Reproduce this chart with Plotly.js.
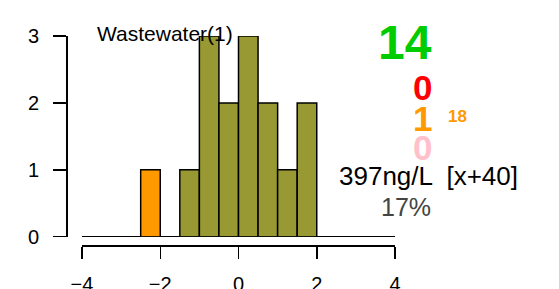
<!DOCTYPE html>
<html><head><meta charset="utf-8">
<script src="https://cdn.plot.ly/plotly-3.0.1.min.js"></script>
<style>html,body{margin:0;padding:0;background:#fff}#c{width:559px;height:289px}</style>
</head><body><div id="c"></div>
<script>
// Histogram bins (width 0.5) and counts
const binCenters = [-2.25, -1.25, -0.75, -0.25, 0.25, 0.75, 1.25, 1.75];
const binCounts  = [1, 1, 3, 2, 3, 2, 1, 2];
const binColors  = ['#FF9900', '#999933', '#999933', '#999933', '#999933', '#999933', '#999933', '#999933'];
const xTicks = [-4, -2, 0, 2, 4];
const yTicks = [0, 1, 2, 3];
const title = 'Wastewater(1)';
const countGreen = '14', countRed = '0', countOrange = '1', orangeSub = '18', countPink = '0';
const concText = '397ng/L  [x+40]';
const pctText = '17%';

const L = 66, R = 164, T = 36, B = 44, W = 559, H = 289;
const pw = W - L - R, ph = H - T - B;
const px = v => (v - L) / pw;
const py = v => (H - B - v) / ph;
const font = 'Liberation Sans, Arial, sans-serif';

const data = [{
  type: 'bar', x: binCenters, y: binCounts, width: 0.5, base: 0,
  marker: {color: binColors, line: {color: '#000', width: 1.5}},
  hoverinfo: 'skip'
}];

function ann(text, x, y, size, color, bold, anchor) {
  return {text: bold ? '<b>' + text + '</b>' : text, xref: 'paper', yref: 'paper',
    x: px(x), y: py(y), xanchor: anchor || 'right', yanchor: 'middle', showarrow: false,
    font: {family: font, size: size, color: color}};
}

const layout = {
  width: W, height: H, margin: {l: L, r: R, t: T, b: B},
  paper_bgcolor: '#fff', plot_bgcolor: '#fff', showlegend: false,
  xaxis: {range: [-4, 4], domain: [px(82), 1], anchor: 'free', position: 0,
    tickvals: xTicks, ticks: 'outside', ticklen: 12, tickwidth: 1.5, tickcolor: '#000',
    showline: true, linecolor: '#000', linewidth: 1.5, showgrid: false, zeroline: false,
    tickfont: {family: font, size: 20, color: '#000'}, ticklabelstandoff: 8, fixedrange: true},
  yaxis: {range: [0, 3], domain: [py(236.7), 1], anchor: 'free', position: 0,
    tickvals: yTicks, ticks: 'outside', ticklen: 13, tickwidth: 1.5, tickcolor: '#000',
    showline: true, linecolor: '#000', linewidth: 1.5, showgrid: false,
    zeroline: true, zerolinecolor: '#000', zerolinewidth: 1.5,
    tickfont: {family: font, size: 20, color: '#000'}, ticklabelstandoff: 10, fixedrange: true},
  annotations: [
    ann(title, 95, 34, 21, '#000', false, 'left'),
    ann(countGreen, 434, 43, 48, '#00CC00', true),
    ann(countRed, 434, 87, 35, '#FF0000', true),
    ann(countOrange, 434, 119, 35, '#FF9900', true),
    ann(orangeSub, 446, 116, 17, '#FF9900', true, 'left'),
    ann(countPink, 434, 147, 35, '#FFC0CB', true),
    ann(concText, 337, 176, 26, '#000', false, 'left'),
    ann(pctText, 433, 207, 25, '#444444', false)
  ]
};
Plotly.newPlot('c', data, layout, {staticPlot: true, displayModeBar: false});
</script></body></html>
